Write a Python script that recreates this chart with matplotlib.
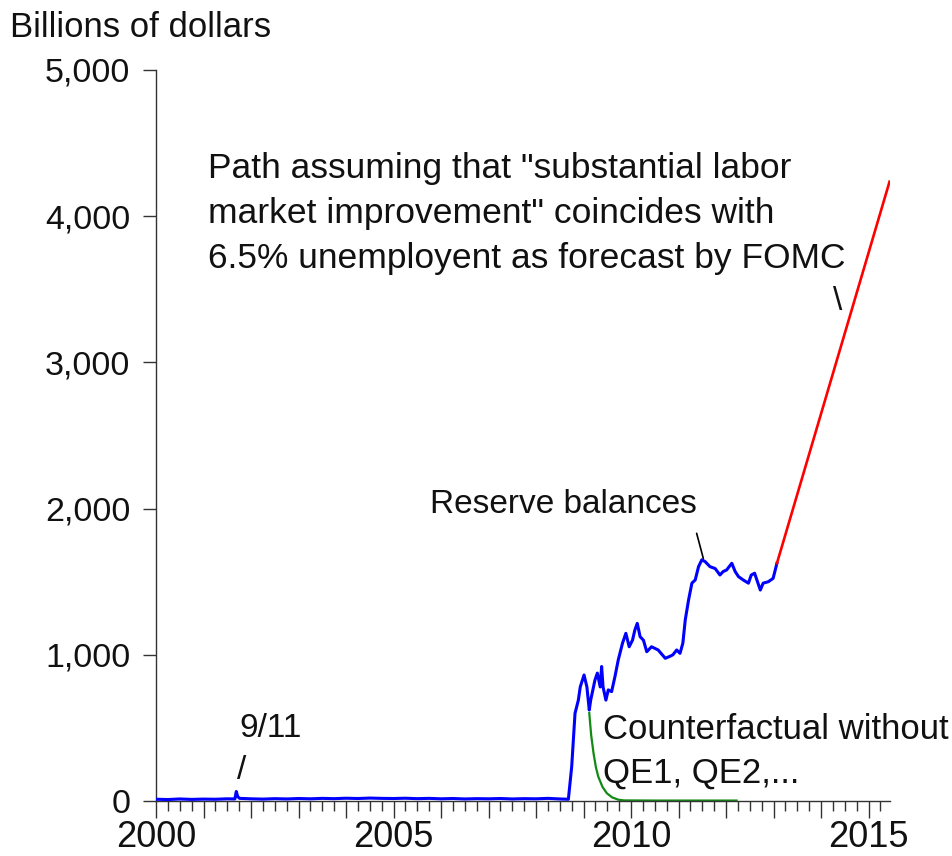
import matplotlib
matplotlib.use("Agg")
import matplotlib.pyplot as plt
from matplotlib.ticker import FixedLocator, MultipleLocator

plt.rcParams['font.family'] = ['Liberation Sans', 'DejaVu Sans']

# reserve balances (billions)
res_x = [2000.0, 2000.25, 2000.5, 2000.75, 2001.0, 2001.25, 2001.5, 2001.66, 2001.69,
         2001.72, 2001.76, 2002.0, 2002.25, 2002.5, 2002.75, 2003.0, 2003.25, 2003.5,
         2003.75, 2004.0, 2004.25, 2004.5, 2004.75, 2005.0, 2005.25, 2005.5, 2005.75,
         2006.0, 2006.25, 2006.5, 2006.75, 2007.0, 2007.25, 2007.5, 2007.75, 2008.0,
         2008.25, 2008.5, 2008.68,
         2008.75, 2008.82, 2008.89, 2008.93, 2009.01, 2009.07, 2009.12, 2009.15, 2009.24,
         2009.29, 2009.35, 2009.38, 2009.41, 2009.47, 2009.52, 2009.59, 2009.66, 2009.73,
         2009.82, 2009.89, 2009.96, 2010.03, 2010.08, 2010.13, 2010.19, 2010.26, 2010.33,
         2010.43, 2010.57, 2010.72, 2010.82, 2010.88, 2010.96, 2011.03, 2011.09, 2011.14,
         2011.21, 2011.28, 2011.35, 2011.42, 2011.49, 2011.56, 2011.66, 2011.77, 2011.87,
         2011.94, 2012.01, 2012.12, 2012.19, 2012.26, 2012.36, 2012.47, 2012.53, 2012.60,
         2012.72, 2012.78, 2012.89, 2012.99, 2013.07]
res_y = [12, 10, 14, 11, 13, 12, 15, 14, 65,
         30, 18, 15, 13, 16, 14, 17, 15, 18,
         16, 19, 17, 20, 18, 17, 19, 16, 18,
         15, 17, 14, 16, 15, 17, 14, 16, 15,
         18, 14, 12,
         235, 600, 690, 780, 862, 780, 622, 690, 828,
         875, 780, 920, 780, 690, 760, 748, 850, 965,
         1080, 1147, 1055, 1100, 1170, 1215, 1124, 1100, 1021,
         1055, 1033, 976, 990, 1000, 1033, 1010, 1080, 1238,
         1375, 1490, 1512, 1603, 1650, 1637, 1603, 1590, 1546,
         1570, 1580, 1626, 1570, 1535, 1512, 1490, 1546, 1558,
         1443, 1490, 1500, 1523, 1626]

# projected path
path_x = [2013.07, 2015.44]
path_y = [1626, 4236]

# counterfactual without QE
cf_x = [2009.12, 2009.16, 2009.21, 2009.26, 2009.31, 2009.40, 2009.49, 2009.60, 2009.73, 2009.85, 2010.5, 2011.5, 2012.22]
cf_y = [601, 450, 326, 230, 166, 95, 53, 25, 9, 4, 3, 3, 3]

fig = plt.figure(figsize=(9.52, 8.56), dpi=100)
ax = fig.add_axes([156/952, 1 - 801/856, (890 - 156)/952, (801 - 70)/856])

ax.plot(res_x, res_y, color='#0000ff', lw=2.2, zorder=3)
ax.plot(path_x, path_y, color='#ff0000', lw=1.9, zorder=3)
ax.plot(cf_x, cf_y, color='#138a13', lw=1.6, zorder=2)

ax.set_xlim(2000, 2015.45)
ax.set_ylim(0, 5000)
for s in ['top', 'right']:
    ax.spines[s].set_visible(False)
for s in ['left', 'bottom']:
    ax.spines[s].set_linewidth(1.0)
    ax.spines[s].set_color('#333333')

txt = '#111111'
ax.yaxis.set_major_locator(FixedLocator([0, 1000, 2000, 3000, 4000, 5000]))
ax.set_yticklabels(['0', '1,000', '2,000', '3,000', '4,000', '5,000'], fontsize=24.5)
ax.tick_params(axis='y', direction='out', length=9.5, width=1, pad=9, colors='#333333',
               labelcolor=txt)

years = list(range(2000, 2016))
ax.xaxis.set_major_locator(FixedLocator(years))
ax.set_xticklabels([str(y) if y % 5 == 0 else '' for y in years], fontsize=26)
ax.xaxis.set_minor_locator(MultipleLocator(0.25))
ax.tick_params(axis='x', which='major', direction='out', length=12, width=1, pad=2,
               colors='#333333', labelcolor=txt)
ax.tick_params(axis='x', which='minor', direction='out', length=7, width=1, colors='#333333')

fs = 25
fig.text(10/952, 1 - 37/856, 'Billions of dollars', fontsize=fs, va='baseline', color=txt)

ax.text(2001.75, 438, '9/11', fontsize=24, va='baseline', color=txt)
ax.text(2001.80, 212, '/', fontsize=24, va='center', ha='center', color=txt)

ax.text(2005.77, 1970, 'Reserve balances', fontsize=24, va='baseline', color=txt)
ax.annotate('', xy=(2011.52, 1660), xytext=(2011.38, 1831),
            arrowprops=dict(arrowstyle='-', color='black', lw=1.2, shrinkA=0, shrinkB=0))

fb = 25.5
ax.text(2001.09, 4261, 'Path assuming that "substantial labor', fontsize=fb, va='baseline', color=txt)
ax.text(2001.09, 3953, 'market improvement" coincides with', fontsize=fb, va='baseline', color=txt)
ax.text(2001.09, 3646, '6.5% unemployent as forecast by FOMC', fontsize=fb, va='baseline', color=txt)
ax.text(2014.35, 3416, '\\', fontsize=24, va='center', ha='center', color=txt)

ax.text(2009.41, 424, 'Counterfactual without', fontsize=fs, va='baseline', color=txt, clip_on=False)
ax.text(2009.41, 123, 'QE1, QE2,...', fontsize=fs, va='baseline', color=txt)

fig.savefig('out.png', dpi=100)
